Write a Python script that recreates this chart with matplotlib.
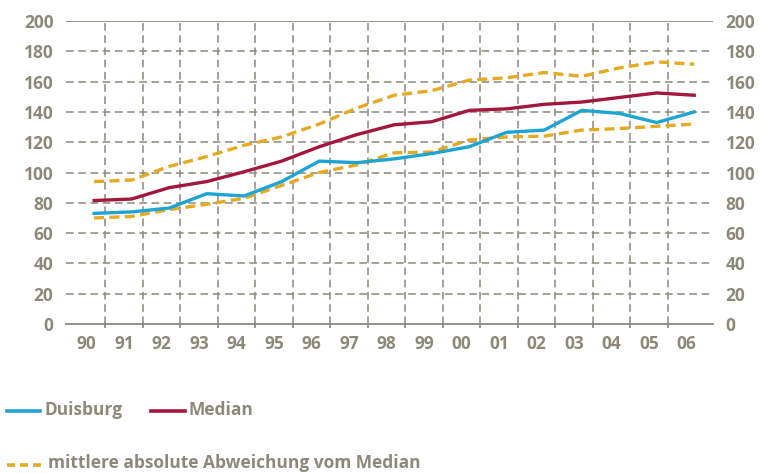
import numpy as np
import matplotlib.pyplot as plt
from matplotlib.lines import Line2D

# values
years = ['90', '91', '92', '93', '94', '95', '96', '97', '98', '99',
         '00', '01', '02', '03', '04', '05', '06']
duisburg = [73, 74, 76.5, 86, 84.5, 94, 107.5, 106.5, 109, 112.5,
            117, 126.5, 128, 141, 139, 133, 140]
median = [81.5, 82.5, 90, 94, 100.5, 107.5, 117, 125, 131.5, 133.5,
          141, 142, 145, 146.5, 149.5, 152.5, 151]
upper_dev = [94, 95, 104, 110.5, 118, 123.5, 132, 142.5, 151, 154,
             161, 162.5, 166, 163.5, 169, 173, 171.5]
lower_dev = [70, 71, 75.5, 79, 83, 91.5, 100, 105, 113, 113.5,
             121.5, 123.5, 124, 128, 129, 130.5, 132]
y_ticks = [0, 20, 40, 60, 80, 100, 120, 140, 160, 180, 200]

BLUE = '#1da4d3'
RED = '#a3173c'
GOLD = '#e6a922'
GREY = '#8c897c'
FS = 12.5

plt.rcParams['font.family'] = ['Open Sans', 'DejaVu Sans']

fig = plt.figure(figsize=(7.61, 4.73), dpi=100)
ax = fig.add_axes([66 / 761, 1 - 324 / 473, 647 / 761, 303 / 473])

x = np.arange(len(years))
ax.set_xlim(-0.75, 16.5)
ax.set_ylim(0, 200)

# grid
for v in y_ticks[1:-1]:
    ax.axhline(v, color=GREY, lw=1.1, ls=(0, (5, 3)), zorder=1)
ax.axhline(200, color=GREY, lw=1.3, zorder=1)
ax.axhline(0, color=GREY, lw=1.3, zorder=1, clip_on=False)
grid_x = x[:-1] + 0.3
for gx in grid_x:
    ax.axvline(gx, color=GREY, lw=1.1, ls=(0, (5, 3)), zorder=1)
    ax.plot([gx, gx], [0, -2.3], color=GREY, lw=1.3, clip_on=False)

# series
ax.plot(x, upper_dev, color=GOLD, lw=2.4, ls=(0, (3, 1.6)), zorder=3)
ax.plot(x, lower_dev, color=GOLD, lw=2.4, ls=(0, (3, 1.6)), zorder=3)
ax.plot(x, duisburg, color=BLUE, lw=2.4, zorder=4)
ax.plot(x, median, color=RED, lw=2.4, zorder=4)

for s in ax.spines.values():
    s.set_visible(False)

ax.set_xticks(x - 0.2)
ax.set_xticklabels(years)
ax.set_yticks(y_ticks)
ax.tick_params(axis='both', length=0, colors=GREY, labelsize=FS)
ax.tick_params(axis='x', pad=8)
ax.tick_params(axis='y', pad=9, labelright=True)
for lab in ax.get_xticklabels() + ax.get_yticklabels():
    lab.set_fontweight('bold')
for t in ax.yaxis.get_major_ticks():
    t.label2.set_fontweight('bold')
    t.label2.set_color(GREY)

# legend drawn by hand
def fx(px):
    return px / 761

def fy(py):
    return 1 - py / 473

fig.add_artist(Line2D([fx(7), fx(40)], [fy(411), fy(411)], color=BLUE, lw=2.6))
fig.text(fx(44), fy(410), 'Duisburg', color=GREY, fontsize=FS,
         fontweight='bold', va='center')
fig.add_artist(Line2D([fx(151), fx(185)], [fy(411), fy(411)], color=RED, lw=2.6))
fig.text(fx(189), fy(410), 'Median', color=GREY, fontsize=FS,
         fontweight='bold', va='center')
fig.add_artist(Line2D([fx(7), fx(42)], [fy(465), fy(465)], color=GOLD, lw=2.6,
                      ls=(0, (2.2, 1.4))))
fig.text(fx(48), fy(463), 'mittlere absolute Abweichung vom Median', color=GREY,
         fontsize=FS, fontweight='bold', va='center')

fig.savefig('out.png', dpi=100)
